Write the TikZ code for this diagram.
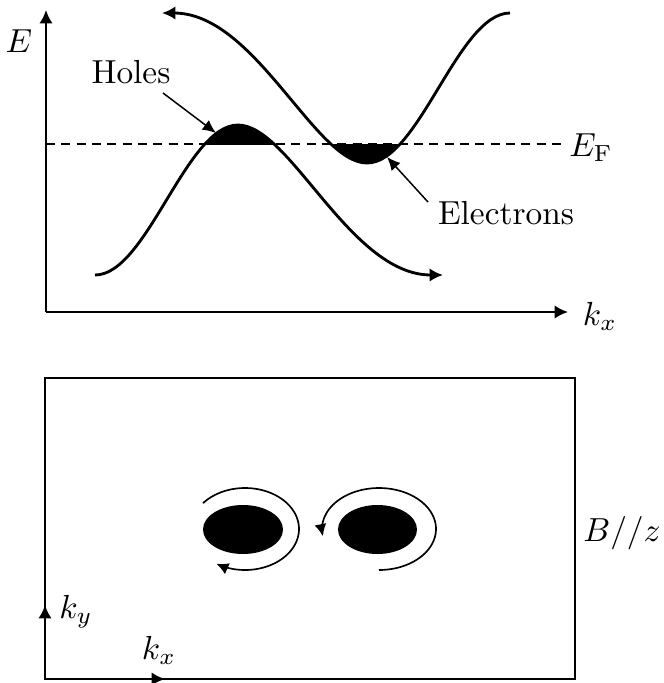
\documentclass[tikz,border=0pt]{standalone}
\usetikzlibrary{arrows.meta}
\begin{document}
\begin{tikzpicture}[x=0.3pt,y=-0.3pt,
  band/.style={line width=0.85pt},
  axis/.style={line width=0.65pt,-{Latex[length=4pt,width=4pt]}},
  bandarrow/.style={band,-{Latex[length=4pt,width=4pt]}},
  pointer/.style={line width=0.45pt,-{Latex[length=4pt,width=3.6pt]}},
  orbit/.style={line width=0.5pt,-{Latex[length=3.6pt,width=3.6pt]}},
  lbl/.style={inner sep=0pt}]
\useasboundingbox (0,0) rectangle (664,683);

% ---------- top: band diagram ----------
\coordinate (O) at (46,312);
\coordinate (Etop) at (46,10);
\coordinate (kxend) at (568,312);
\coordinate (efl) at (46,144);
\coordinate (efr) at (566,144);
\draw[axis] (O) -- (Etop);
\draw[axis] (O) -- (kxend);
\draw[line width=0.6pt,dash pattern=on 2.7pt off 1.9pt] (efl) -- (efr);

\node[lbl] (E) at (19,41) {$E$};
\node[lbl] (kx) at (600,316) {$k_x$};
\node[lbl] (EF) at (591,148) {$E_{\mathrm{F}}$};

% filled pockets
\begin{scope}
  \clip (0,0) rectangle (664,144);
  \fill (95,275) .. controls (147,275) and (186,125) .. (238,125)
        .. controls (290,125) and (350,275) .. (443,275) -- cycle;
\end{scope}
\begin{scope}
  \clip (0,144) rectangle (664,330);
  \fill (162,13) .. controls (255,13) and (315,163) .. (367,163)
        .. controls (419,163) and (458,13) .. (510,13) -- cycle;
\end{scope}

% bands
\coordinate (vbL) at (95,275);
\coordinate (vbR) at (443,275);
\coordinate (cbL) at (162,13);
\coordinate (cbR) at (510,13);
\draw[bandarrow] (vbL) .. controls (147,275) and (186,125) .. (238,125)
      .. controls (290,125) and (350,275) .. (vbR);
\draw[bandarrow] (cbR) .. controls (458,13) and (419,163) .. (367,163)
      .. controls (315,163) and (255,13) .. (cbL);

% labels with pointers
\node[lbl] (holes) at (131,72) {Holes};
\coordinate (htail) at (163,93);
\coordinate (htip) at (216,133);
\draw[pointer] (htail) -- (htip);
\node[lbl] (elec) at (506,213) {Electrons};
\coordinate (etail) at (428,202);
\coordinate (etip) at (387,157);
\draw[pointer] (etail) -- (etip);

% ---------- bottom: k-space ----------
\coordinate (BL) at (45,679);
\coordinate (TR) at (575,378);
\draw[line width=0.5pt] (BL) rectangle (TR);
\coordinate (kyend) at (45,605);
\coordinate (kxend2) at (165,679);
\draw[axis] (BL) -- (kyend);
\draw[axis] (BL) -- (kxend2);
\node[lbl] (ky) at (76,612) {$k_y$};
\node[lbl] (kx2) at (159,650) {$k_x$};
\node[lbl] (B) at (622,533) {$B//z$};

\fill (243,529.5) ellipse [x radius=40, y radius=24.5];
\fill (377.5,529.5) ellipse [x radius=39.5, y radius=24.5];

\draw[orbit] plot[domain=-141:122, samples=90] ({245+54*cos(\x)}, {529+41*sin(\x)});
\draw[orbit] plot[domain=90:-190, samples=90] ({379+57*cos(\x)}, {529+41*sin(\x)});
\end{tikzpicture}
\end{document}
